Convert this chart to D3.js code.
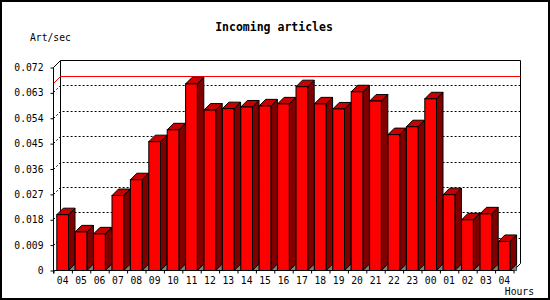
<!DOCTYPE html>
<html>
<head>
<meta charset="utf-8">
<script src="https://cdn.jsdelivr.net/npm/d3@7"></script>
<style>
    body { margin: 0; background: #fff; }
    text { font-family: "DejaVu Sans Mono", monospace; fill: #000; }
</style>
</head>
<body>
<div id="chart"></div>
<script>

// hours and article rate
let hours = ["04", "05", "06", "07", "08", "09", "10", "11", "12", "13", "14", "15", "16",
    "17", "18", "19", "20", "21", "22", "23", "00", "01", "02", "03", "04"];
let rates = [0.0198, 0.0137, 0.0130, 0.0266, 0.0322, 0.0457, 0.0499, 0.0662, 0.0569, 0.0574,
    0.0580, 0.0584, 0.0591, 0.0652, 0.0591, 0.0573, 0.0634, 0.0601, 0.0482, 0.0510,
    0.0609, 0.0269, 0.0180, 0.0201, 0.0103];
let yTicks = [0, 0.009, 0.018, 0.027, 0.036, 0.045, 0.054, 0.063, 0.072];

let width = 550, height = 300;
let margin = {left: 53, right: 37, top: 67, bottom: 30};
let depth = 7;      // depth of the back wall
let barDepth = 6.5; // depth of each bar

let svg = d3.select("#chart").append("svg")
    .attr("width", width)
    .attr("height", height);

// outer frame
svg.append("rect")
    .attr("x", 1).attr("y", 1)
    .attr("width", width - 2).attr("height", height - 2)
    .attr("fill", "#fff")
    .attr("stroke", "#000")
    .attr("stroke-width", 2);

let x0 = margin.left, x1 = width - margin.right;
let y0 = height - margin.bottom;

let xScale = d3.scaleBand()
    .domain(d3.range(hours.length))
    .range([x0, x1]);

let xTickScale = d3.scaleLinear()
    .domain([0, hours.length])
    .range([x0, x1]);

let yScale = d3.scaleLinear()
    .domain([0, 0.072])
    .range([y0, margin.top]);

let g = svg.append("g").attr("transform", "translate(0.5,0.5)");

// back wall
let yTop = yScale(0.072);
g.append("path")
    .attr("d", "M" + x0 + "," + yTop + "L" + (x0 + depth) + "," + (yTop - depth) +
        "H" + (x1 + depth) + "V" + (y0 - depth) + "L" + x1 + "," + y0)
    .attr("fill", "none").attr("stroke", "#000");
g.append("line")
    .attr("x1", x0 + depth).attr("x2", x0 + depth)
    .attr("y1", yTop - depth).attr("y2", y0 - depth)
    .attr("stroke", "#000");

// dotted grid lines on the wall
yTicks.filter(d => d > 0 && d < 0.072).forEach(d => {
    let yy = Math.round(yScale(d));
    g.append("path")
        .attr("d", "M" + x0 + "," + yy + "L" + (x0 + depth) + "," + (yy - depth) + "H" + (x1 + depth))
        .attr("fill", "none")
        .attr("stroke", "#000")
        .attr("stroke-dasharray", "2,2");
});

// peak line
let peak = Math.round(yScale(d3.max(rates)));
g.append("path")
    .attr("d", "M" + x0 + "," + peak + "L" + (x0 + depth) + "," + (peak - depth) + "H" + (x1 + depth))
    .attr("fill", "none")
    .attr("stroke", "#ff0000");

// bars
let off = 3.3, bw = 11.7;
let bars = g.selectAll(".bar")
    .data(rates)
    .enter().append("g")
    .attr("class", "bar");

bars.each(function (d, i) {
    let b = d3.select(this);
    let bx = xScale(i) + off;
    let by = yScale(d);
    let r = bx + bw;
    // floor shadow
    b.append("path")
        .attr("d", "M" + r + "," + y0 + "L" + (r + barDepth) + "," + (y0 - barDepth) + "V" + y0 + "Z")
        .attr("fill", "#808080").attr("stroke", "#000").attr("stroke-width", 0.6);
    // side
    b.append("path")
        .attr("d", "M" + r + "," + by + "L" + (r + barDepth) + "," + (by - barDepth) +
            "V" + (y0 - barDepth) + "L" + r + "," + y0 + "Z")
        .attr("fill", "#800000").attr("stroke", "#000");
    // top
    b.append("path")
        .attr("d", "M" + bx + "," + by + "L" + (bx + barDepth) + "," + (by - barDepth) +
            "H" + (r + barDepth) + "L" + r + "," + by + "Z")
        .attr("fill", "#c80000").attr("stroke", "#000");
    // front
    b.append("rect")
        .attr("x", bx).attr("y", by)
        .attr("width", bw).attr("height", y0 - by)
        .attr("fill", "#ff0000").attr("stroke", "#000");
});

// y axis
let yAxis = d3.axisLeft(yScale)
    .tickValues(yTicks)
    .tickSize(3)
    .tickPadding(7)
    .tickFormat(d => d === 0 ? "0" : d3.format(".3f")(d));

let yAxisG = g.append("g")
    .attr("transform", "translate(" + x0 + ",0)")
    .call(yAxis);
yAxisG.select(".domain").remove();
yAxisG.selectAll("text").style("font-size", "9.7px").attr("font-family", null);
yAxisG.selectAll("line").attr("stroke", "#000");

g.append("line")
    .attr("x1", x0).attr("x2", x0)
    .attr("y1", yTop).attr("y2", y0 + 3)
    .attr("stroke", "#000");

// x axis
let xAxisTicks = d3.axisBottom(xTickScale)
    .ticks(hours.length)
    .tickSize(3)
    .tickFormat("");
let xt = g.append("g")
    .attr("transform", "translate(0," + y0 + ")")
    .call(xAxisTicks);
xt.select(".domain").attr("d", "M" + x0 + ",0H" + x1).attr("stroke", "#000");

let xAxisLabels = d3.axisBottom(xScale)
    .tickSize(0)
    .tickPadding(7)
    .tickFormat(i => hours[i]);
let xl = g.append("g")
    .attr("transform", "translate(0," + y0 + ")")
    .call(xAxisLabels);
xl.select(".domain").remove();
xl.selectAll("text").style("font-size", "9.7px").attr("font-family", null);

// titles
svg.append("text")
    .attr("x", 274).attr("y", 31)
    .attr("text-anchor", "middle")
    .style("font-size", "11.5px")
    .style("font-weight", "bold")
    .text("Incoming articles");

svg.append("text")
    .attr("x", 30).attr("y", 41)
    .style("font-size", "9.7px")
    .text("Art/sec");

svg.append("text")
    .attr("x", 534).attr("y", 295)
    .attr("text-anchor", "end")
    .style("font-size", "9.7px")
    .text("Hours");

</script>
</body>
</html>
